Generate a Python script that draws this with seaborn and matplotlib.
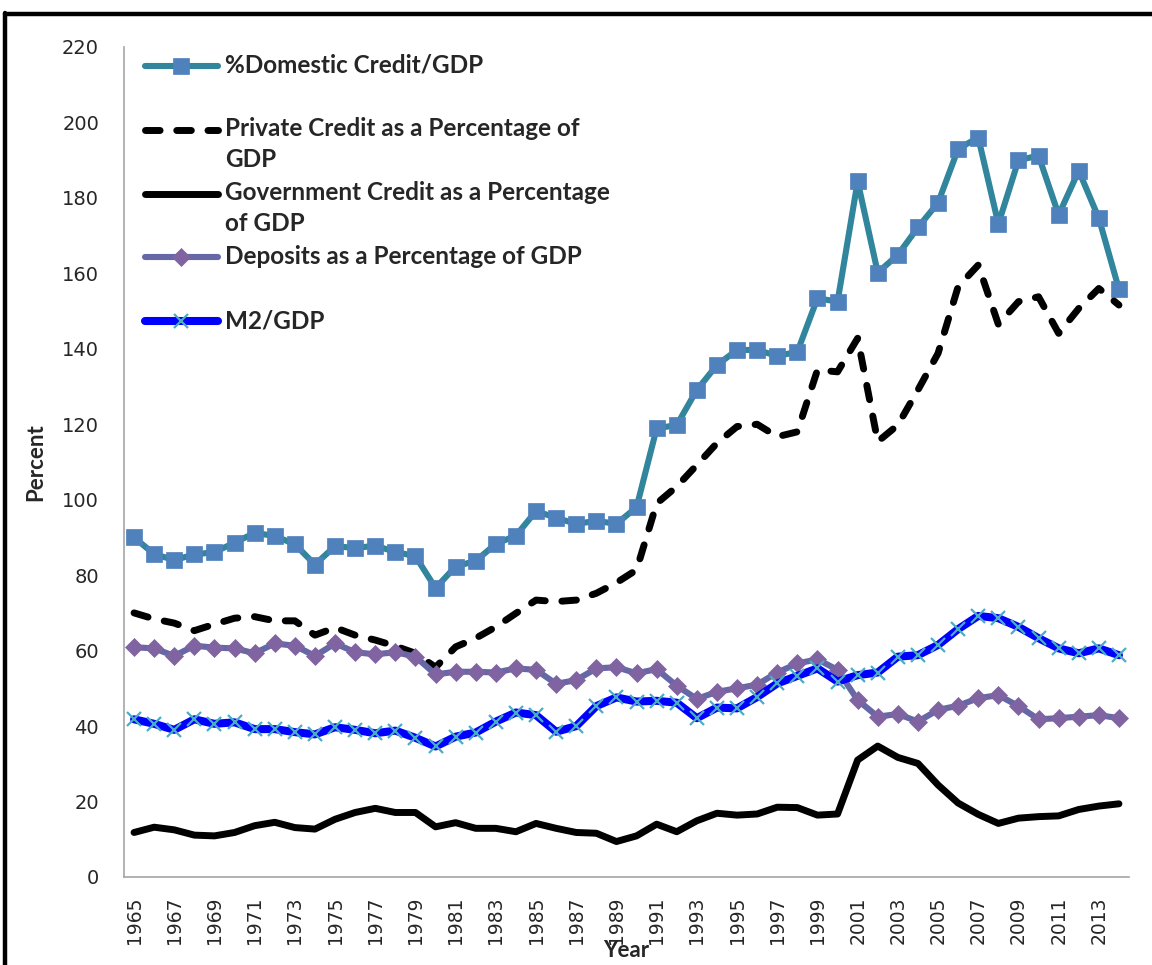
import matplotlib
matplotlib.use("Agg")
import matplotlib.pyplot as plt
import numpy as np
import pandas as pd
import seaborn as sns
from matplotlib.lines import Line2D
from matplotlib.legend_handler import HandlerLine2D

years = list(range(1965, 2015))

domestic_credit = [90.0, 85.6, 84.0, 85.5, 86.1, 88.6, 91.2, 90.4, 88.2, 82.8,
                   87.7, 87.2, 87.8, 86.2, 85.0, 76.6, 82.3, 83.8, 88.3, 90.5,
                   97.0, 95.2, 93.6, 94.4, 93.6, 98.0, 118.9, 119.8, 129.1, 135.7,
                   139.7, 139.7, 138.1, 139.2, 153.4, 152.5, 184.4, 160.2, 164.9, 172.2,
                   178.7, 193.0, 196.0, 173.1, 190.0, 191.2, 175.5, 187.2, 174.6, 155.8]

private_credit = [70.0, 68.4, 67.3, 65.3, 67.0, 68.6, 69.0, 67.9, 67.9, 64.1,
                  66.1, 64.1, 62.8, 61.2, 59.3, 55.6, 61.0, 63.3, 66.3, 69.9,
                  73.4, 73.0, 73.4, 75.2, 78.0, 81.4, 99.0, 103.5, 109.2, 115.0,
                  119.4, 120.0, 116.7, 118.0, 134.4, 133.9, 142.8, 115.4, 119.8, 129.1,
                  138.8, 156.5, 162.2, 146.5, 152.5, 153.8, 144.1, 150.7, 156.0, 151.6]

government_credit = [11.8, 13.2, 12.5, 11.1, 10.9, 11.8, 13.6, 14.5, 13.1, 12.7,
                     15.3, 17.1, 18.2, 17.1, 17.1, 13.3, 14.4, 12.9, 12.9, 12.0,
                     14.2, 12.9, 11.8, 11.6, 9.4, 10.9, 14.0, 12.0, 14.9, 16.9,
                     16.4, 16.7, 18.5, 18.4, 16.4, 16.7, 31.0, 34.7, 31.7, 30.1,
                     24.4, 19.6, 16.6, 14.2, 15.6, 16.0, 16.2, 17.9, 18.8, 19.4]

deposits = [60.9, 60.6, 58.6, 61.3, 60.8, 60.6, 59.3, 61.9, 61.3, 58.6,
            61.9, 59.6, 59.0, 59.6, 58.4, 53.7, 54.4, 54.4, 54.2, 55.3,
            54.9, 51.2, 52.2, 55.3, 55.6, 54.0, 55.1, 50.7, 47.2, 49.1,
            50.0, 51.0, 54.2, 56.6, 57.7, 54.9, 46.9, 42.5, 43.2, 41.2,
            44.3, 45.4, 47.4, 48.2, 45.3, 41.8, 42.1, 42.5, 42.9, 42.1]

m2 = [41.8, 40.6, 39.0, 41.8, 40.6, 41.0, 39.2, 39.2, 38.4, 37.8,
      39.7, 39.0, 38.1, 38.8, 36.9, 34.6, 37.2, 38.3, 41.2, 43.6,
      42.9, 38.5, 40.0, 45.3, 47.6, 46.5, 46.7, 46.2, 42.1, 44.9,
      44.7, 47.7, 51.3, 53.3, 55.3, 51.8, 53.5, 54.2, 58.4, 58.8,
      61.5, 65.7, 69.2, 68.6, 66.3, 63.3, 60.6, 59.3, 60.6, 58.8]

series_labels = ["%Domestic Credit/GDP",
                 "Private Credit as a Percentage of\nGDP",
                 "Government Credit as a Percentage\nof GDP",
                 "Deposits as a Percentage of GDP",
                 "M2/GDP"]

y_ticks = list(range(0, 221, 20))
x_ticks = years[::2]

sns.set_theme(style="white")
plt.rcParams['font.family'] = ['DejaVu Sans']

df = pd.DataFrame({"Year": years, "dom": domestic_credit, "priv": private_credit,
                   "gov": government_credit, "dep": deposits, "m2": m2})

fig = plt.figure(figsize=(11.52, 9.65), dpi=100)
ax = fig.add_axes([124/1152, 88/965, 1005/1152, 830/965])

sns.lineplot(data=df, x="Year", y="dom", ax=ax, color="#31859C", linewidth=4.4,
             marker="s", markersize=11.5, markerfacecolor="#4F81BD",
             markeredgecolor="#4F81BD", markeredgewidth=0.5)
sns.lineplot(data=df, x="Year", y="priv", ax=ax, color="black", linewidth=5.0,
             linestyle=(0, (2.1, 2.4)), dash_capstyle="round")
sns.lineplot(data=df, x="Year", y="gov", ax=ax, color="black", linewidth=5.0,
             solid_capstyle="round")
sns.lineplot(data=df, x="Year", y="dep", ax=ax, color="#6668A6", linewidth=4.4,
             marker="D", markersize=9.5, markerfacecolor="#8064A2",
             markeredgecolor="#8064A2", markeredgewidth=0.5)
sns.lineplot(data=df, x="Year", y="m2", ax=ax, color="#0000FF", linewidth=5.8,
             marker="x", markersize=10, markeredgecolor="#4BACC6",
             markeredgewidth=1.6)

ax.set_xlim(1964.5, 2014.5)
ax.set_ylim(0, 220)
ax.set_yticks(y_ticks)
ax.set_xticks(x_ticks)
ax.set_xticklabels([str(y) for y in x_ticks], rotation=90, fontsize=13.5)
ax.set_yticklabels([str(v) for v in y_ticks], fontsize=14)
ax.tick_params(axis="both", length=0)
ax.tick_params(axis="y", pad=18)
ax.tick_params(axis="x", pad=14)
for s in ["top", "right"]:
    ax.spines[s].set_visible(False)
for s in ["left", "bottom"]:
    ax.spines[s].set_color("#A6A6A6")
    ax.spines[s].set_linewidth(1.2)
ax.grid(False)

ax.set_xlabel("Year", family=["Lato", "DejaVu Sans"], fontweight="bold",
              fontsize=16, labelpad=-3)
ax.set_ylabel("Percent", family=["Lato", "DejaVu Sans"], fontweight="bold",
              fontsize=16, labelpad=11)


class FirstLineHandler(HandlerLine2D):
    def __init__(self, shift, **kw):
        super().__init__(**kw)
        self.shift = shift

    def create_artists(self, legend, orig_handle, xdescent, ydescent, width,
                       height, fontsize, trans):
        return super().create_artists(legend, orig_handle, xdescent,
                                      ydescent - 2 * self.shift, width, height,
                                      fontsize, trans)


handles = ax.get_lines()[:5]
labels = [lab if "\n" in lab else lab + "\n" for lab in series_labels]
hm = {h: FirstLineHandler(shift=11.2) for h in handles}
leg = ax.legend(handles, labels, loc="upper left",
                bbox_to_anchor=(21/1005, 0.9925), frameon=False,
                borderaxespad=0, borderpad=0, handlelength=3.0,
                handletextpad=0.3, numpoints=1, labelspacing=0.41,
                handler_map=hm,
                prop={"family": ["Lato", "DejaVu Sans"], "weight": "bold",
                      "size": 17.5})
for t in leg.get_texts():
    t.set_linespacing(1.42)

# document frame lines
fig.add_artist(Line2D([5/1152, 5/1152], [0, 1 - 13/965], transform=fig.transFigure,
                      color="black", lw=3.2))
fig.add_artist(Line2D([5/1152, 1], [1 - 13.5/965, 1 - 13.5/965],
                      transform=fig.transFigure, color="black", lw=3.2))

fig.savefig("out.png", dpi=100)
